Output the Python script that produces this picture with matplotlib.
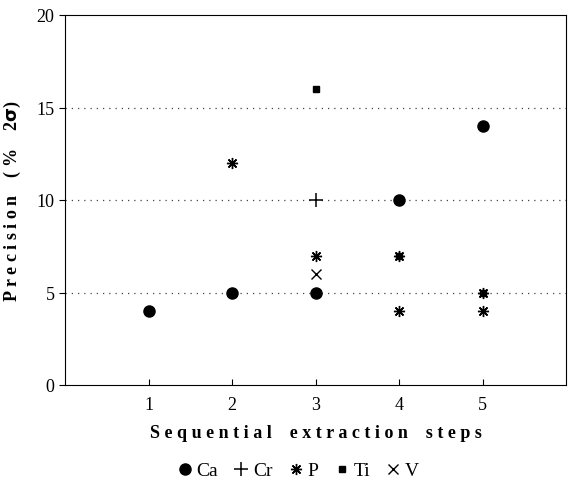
import matplotlib.pyplot as plt

# values
ca_x = [1, 2, 3, 4, 5]
ca_y = [4, 5, 5, 10, 14]
cr_x = [3]
cr_y = [10]
p_x = [2, 3, 4, 4, 5, 5]
p_y = [12, 7, 7, 4, 5, 4]
ti_x = [3, 4, 5]
ti_y = [16, 7, 5]
v_x = [3]
v_y = [6]

x_ticks = [1, 2, 3, 4, 5]
y_ticks = [0, 5, 10, 15, 20]

plt.rcParams['font.family'] = ['Liberation Serif', 'DejaVu Serif']

fig = plt.figure(figsize=(5.71, 4.81), dpi=100)
ax = fig.add_axes([65 / 571, 1 - 386 / 481, 501 / 571, 370 / 481])

for y in [5, 10, 15]:
    ax.axhline(y, color='#444444', linestyle=(0, (1, 4)), linewidth=0.9, zorder=0)

ax.plot(ca_x, ca_y, 'o', color='black', markersize=8, linestyle='none', label='Ca')
ax.plot(cr_x, cr_y, '+', color='black', markersize=10, markeredgewidth=1.1, linestyle='none', label='Cr')
ax.plot(p_x, p_y, marker=(8, 2, 0), color='black', markersize=8, markeredgewidth=1.0, linestyle='none', label='P')
ax.plot(ti_x, ti_y, 's', color='black', markersize=4.5, linestyle='none', label='Ti')
ax.plot(v_x, v_y, 'x', color='black', markersize=7, markeredgewidth=1.0, linestyle='none', label='V')

ax.set_xlim(0, 6)
ax.set_ylim(0, 20)
ax.set_xticks(x_ticks)
ax.set_yticks(y_ticks)
ax.tick_params(axis='x', direction='in', length=4, labelsize=13, pad=8)
ax.tick_params(axis='y', direction='out', length=4, labelsize=13)

ax.set_xlabel('S e q u e n t i a l    e x t r a c t i o n    s t e p s',
              fontsize=13, fontweight='bold', labelpad=8)
ax.set_ylabel('P r e c i s i o n    ( %    2$\\mathbf{\\sigma}$)',
              fontsize=13, fontweight='bold', labelpad=10)

fig.legend(loc='lower center', bbox_to_anchor=(0.52, -0.035), ncol=5, frameon=False,
           handletextpad=0.1, columnspacing=0.7, handlelength=1.0,
           prop={'size': 14})

fig.savefig('out.png', dpi=100)
